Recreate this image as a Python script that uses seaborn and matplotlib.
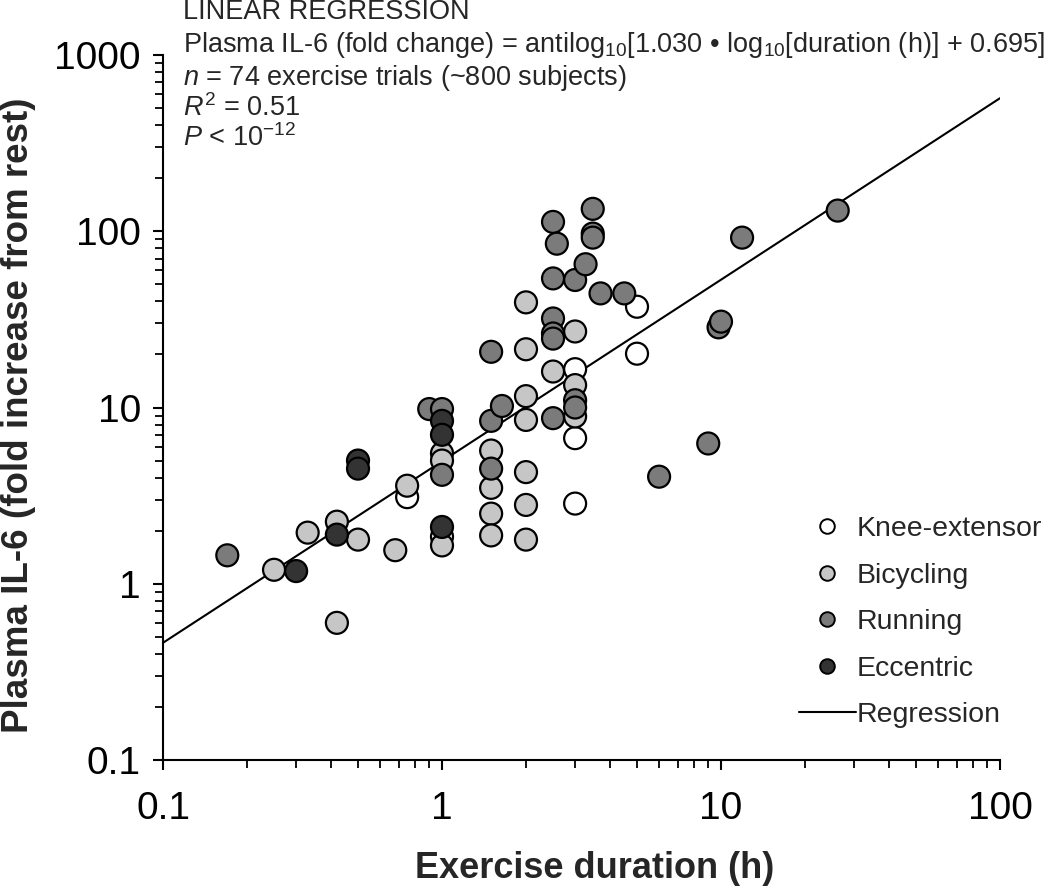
import numpy as np
import pandas as pd
import matplotlib
matplotlib.use("Agg")
import matplotlib.pyplot as plt
from matplotlib.lines import Line2D
from matplotlib.ticker import LogLocator, NullFormatter, FixedLocator, FixedFormatter
import seaborn as sns

# ---------------- data ----------------
categories = ["Knee-extensor", "Bicycling", "Running", "Eccentric"]
colors = ["#ffffff", "#c6c6c6", "#7b7b7b", "#333333"]

knee_x = [0.75, 1.0, 3.0, 3.0, 3.0, 5.0, 5.0]
knee_y = [3.1, 1.85, 16.5, 6.7, 2.85, 37.3, 20.2]

bike_x = [0.25, 0.33, 0.42, 0.42, 0.50, 0.68, 0.75, 1.0, 1.0, 1.0, 1.5, 1.5, 1.5, 1.5,
          2.0, 2.0, 2.0, 2.0, 2.0, 2.0, 2.0, 2.5, 3.0, 3.0, 3.0]
bike_y = [1.2, 1.95, 2.25, 0.6, 1.78, 1.55, 3.6, 5.5, 5.0, 1.65, 5.7, 3.5, 2.5, 1.88,
          39.5, 21.4, 11.6, 8.5, 4.3, 2.8, 1.78, 16.0, 27.0, 13.4, 8.9]

run_x = [0.17, 0.9, 1.0, 1.0, 1.5, 1.5, 1.5, 1.64, 2.5, 2.58, 2.5, 2.5, 2.5, 2.5, 2.5,
         3.0, 3.0, 3.0, 3.27, 3.47, 3.47, 3.47, 3.7, 4.5, 6.0, 9.0, 9.8, 10.0, 11.9, 26.2]
run_y = [1.45, 9.8, 9.8, 4.15, 20.7, 8.4, 4.5, 10.2, 113, 85, 54, 32, 26.3, 24.6, 8.7,
         52.9, 11.0, 10.0, 65, 134, 97, 92, 44.4, 44.4, 4.05, 6.25, 28.5, 30.7, 92, 131]

ecc_x = [0.3, 0.42, 0.5, 0.5, 1.0, 1.0, 1.0]
ecc_y = [1.18, 1.9, 5.0, 4.5, 8.4, 7.0, 2.1]

reg_slope = 1.030
reg_intercept = 0.695
reg_range = [0.1, 100]

x_ticks = [0.1, 1, 10, 100]
x_ticklabels = ["0.1", "1", "10", "100"]
y_ticks = [0.1, 1, 10, 100, 1000]
y_ticklabels = ["0.1", "1", "10", "100", "1000"]

annot_lines = [
    "LINEAR REGRESSION",
    r"Plasma IL-6 (fold change) = antilog$_{10}$[1.030 • log$_{10}$[duration (h)] + 0.695]",
    r"$n$ = 74 exercise trials (~800 subjects)",
    r"$R^2$ = 0.51",
    r"$P$ < 10$^{-12}$",
]

# ---------------- style ----------------
sns.set_style("ticks")
plt.rcParams["font.family"] = ["Liberation Sans", "DejaVu Sans"]
plt.rcParams["mathtext.fontset"] = "custom"
plt.rcParams["mathtext.rm"] = "Liberation Sans"
plt.rcParams["mathtext.it"] = "Liberation Sans:italic"
plt.rcParams["mathtext.bf"] = "Liberation Sans:bold"

df = pd.concat([
    pd.DataFrame({"x": knee_x, "y": knee_y, "type": categories[0]}),
    pd.DataFrame({"x": bike_x, "y": bike_y, "type": categories[1]}),
    pd.DataFrame({"x": run_x, "y": run_y, "type": categories[2]}),
    pd.DataFrame({"x": ecc_x, "y": ecc_y, "type": categories[3]}),
], ignore_index=True)

fig = plt.figure(figsize=(10.5, 8.96), dpi=100)
ax = fig.add_axes([163 / 1050, 1 - 760 / 896, (1000 - 163) / 1050, (760 - 55) / 896])

# regression line (behind points)
xr = np.array(reg_range, dtype=float)
yr = 10 ** (reg_slope * np.log10(xr) + reg_intercept)
ax.plot(xr, yr, color="black", lw=1.5, zorder=1)

sns.scatterplot(data=df, x="x", y="y", hue="type", hue_order=categories,
                palette=dict(zip(categories, colors)), s=250, edgecolor="black",
                linewidth=1.6, legend=False, ax=ax, zorder=2)

ax.set_xscale("log")
ax.set_yscale("log")
ax.set_xlim(0.1, 100)
ax.set_ylim(0.1, 1000)

for side in ["top", "right"]:
    ax.spines[side].set_visible(False)
for side in ["left", "bottom"]:
    ax.spines[side].set_linewidth(1.5)
    ax.spines[side].set_color("black")

ax.xaxis.set_major_locator(FixedLocator(x_ticks))
ax.xaxis.set_major_formatter(FixedFormatter(x_ticklabels))
ax.yaxis.set_major_locator(FixedLocator(y_ticks))
ax.yaxis.set_major_formatter(FixedFormatter(y_ticklabels))
ax.xaxis.set_minor_locator(LogLocator(base=10, subs=np.arange(2, 10)))
ax.yaxis.set_minor_locator(LogLocator(base=10, subs=np.arange(2, 10)))
ax.xaxis.set_minor_formatter(NullFormatter())
ax.yaxis.set_minor_formatter(NullFormatter())

ax.tick_params(axis="both", which="major", direction="out", length=7, width=1.5,
               color="black", labelsize=28, labelcolor="black")
ax.tick_params(axis="both", which="minor", direction="out", length=5.5, width=1.3,
               color="black")
ax.tick_params(axis="x", which="major", pad=15)
ax.tick_params(axis="y", which="major", pad=9)

ax.set_xlabel("Exercise duration (h)", fontsize=26, fontweight="bold")
ax.xaxis.set_label_coords((595 - 163) / (1000 - 163), -(868 - 760) / (760 - 55))
ax.xaxis.label.set_va("center")
ax.set_ylabel("Plasma IL-6 (fold increase from rest)", fontsize=26.5, fontweight="bold")
ax.yaxis.set_label_coords(-(163 - 19) / (1000 - 163), (760 - 415) / (760 - 55))
ax.yaxis.label.set_va("center")

# legend
handles = [Line2D([], [], marker="o", ls="none", markersize=10.5, markerfacecolor=c,
                  markeredgecolor="black", markeredgewidth=1.4) for c in colors]
handles.append(Line2D([], [], color="black", lw=1.5))
labels = categories + ["Regression"]
leg = fig.legend(handles, labels, loc="lower left",
                 bbox_to_anchor=(793 / 1050, 1 - 734 / 896),
                 frameon=False, fontsize=20.5, handlelength=2.0, handletextpad=0.05,
                 labelspacing=0.72, borderpad=0.2, borderaxespad=0)

# annotation block
ys = [12, 45, 78, 108, 138]
for txt, yy in zip(annot_lines, ys):
    fig.text(183 / 1050, 1 - yy / 896, txt, fontsize=19.5, va="center", ha="left")

fig.savefig("out.png", dpi=100)
